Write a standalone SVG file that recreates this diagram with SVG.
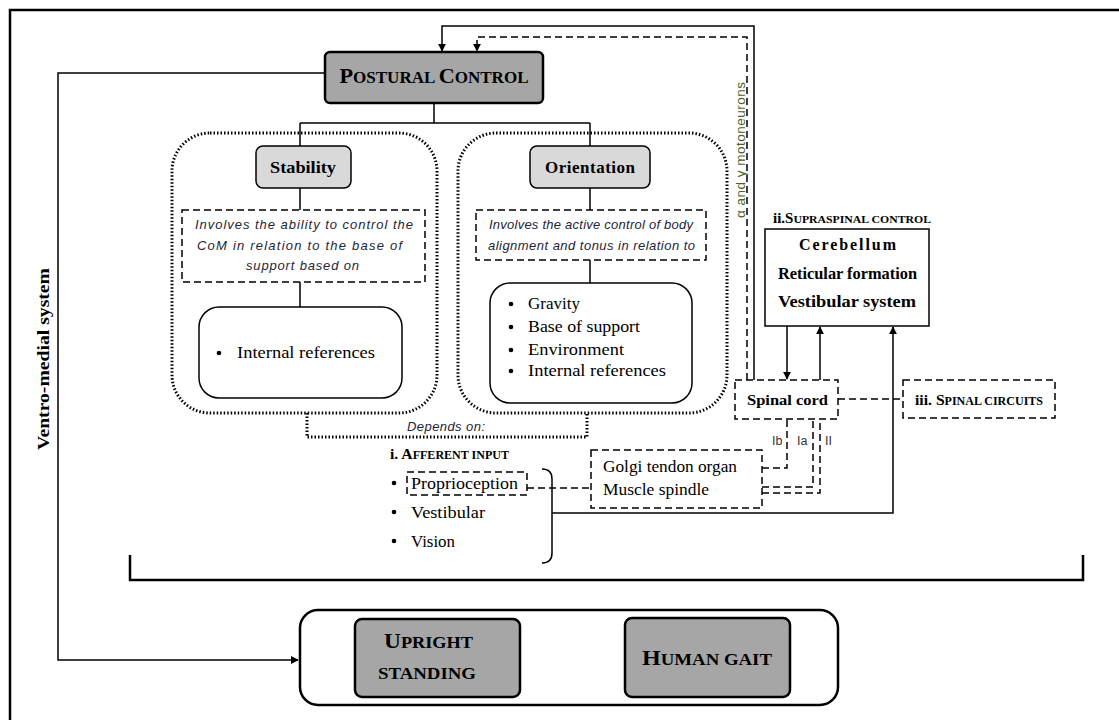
<svg xmlns="http://www.w3.org/2000/svg" width="1119" height="720" viewBox="0 0 1119 720">
<defs>
<marker id="ah" viewBox="0 0 10 10" refX="9" refY="5" markerWidth="8" markerHeight="8" markerUnits="userSpaceOnUse" orient="auto"><path d="M0,0 L10,5 L0,10 z" fill="#000"/></marker>
<style>
.ln{fill:none;stroke:#000;stroke-width:1.5}
.ln2{fill:none;stroke:#000;stroke-width:2.5}
.dash{fill:none;stroke:#000;stroke-width:1.5;stroke-dasharray:7,4}
.dot{fill:none;stroke:#000;stroke-width:3;stroke-dasharray:1.5,2}
.box{fill:#fff;stroke:#000;stroke-width:1.5}
.dk{fill:#a6a6a6;stroke:#000;stroke-width:2.5}
.lt{fill:#d9d9d9;stroke:#000;stroke-width:1.5}
.ser{font-family:"Liberation Serif","DejaVu Serif",serif;fill:#000}
.b{font-weight:bold}
.it{font-family:"Liberation Sans",Arial,sans-serif;font-style:italic;font-size:13px;fill:#1e2438}
.mid{text-anchor:middle}
</style>
</defs>
<rect width="1119" height="720" fill="#fff"/>
<!-- frame -->
<path d="M10,720 L10,10 L1119,10" class="ln2"/>

<g id="connectors">
<path d="M325,73 L58,73 L58,660 L298,660" class="ln" marker-end="url(#ah)"/>
<path d="M434,103 L434,123 M300,123 L590,123 M300,123 L300,147 M590,123 L590,147" class="ln"/>
<path d="M300,188 L300,210 M300,282 L300,307" class="ln"/>
<path d="M590,188 L590,210 M590,260 L590,283" class="ln"/>
<path d="M754,380 L754,26 L442,26 L442,51" class="ln" marker-end="url(#ah)"/>
<path d="M747,380 L747,37 L477,37 L477,51" class="dash" marker-end="url(#ah)"/>
<path d="M787,326 L787,379" class="ln" marker-end="url(#ah)"/>
<path d="M820,380 L820,327" class="ln" marker-end="url(#ah)"/>
<path d="M542,469 Q552,469 552,479 L552,553 Q552,563 542,563 M552,513 L893,513 L893,327" class="ln" marker-end="url(#ah)"/>
<path d="M838,399 L903,399" class="dash"/>
<path d="M527,488 L591,488" class="dash"/>
<path d="M762,468 L787,468 L787,420" class="dash"/>
<path d="M762,487 L813,487 L813,420" class="dash"/>
<path d="M762,493 L820,493 L820,420" class="dash"/>
<path d="M307,413 L307,437 L587,437 L587,413" class="dot"/>
<path d="M130,555 L130,580 L1083,580 L1083,555" class="ln2"/>
</g>

<text class="ser b" font-size="17" transform="translate(49,359) rotate(-90)" text-anchor="middle" textLength="182" lengthAdjust="spacingAndGlyphs">Ventro-medial system</text>
<text font-family="'Liberation Sans',Arial,sans-serif" font-size="13.5" fill="#4f6228" transform="translate(745,150) rotate(-90)" text-anchor="middle" textLength="136" lengthAdjust="spacing">α and γ motoneurons</text>

<g id="postural-control">
<rect x="325" y="52" width="218" height="51" rx="5" class="dk"/>
<text x="434" y="83" class="ser b mid" font-size="16.5" textLength="189" lengthAdjust="spacingAndGlyphs"><tspan font-size="21.5">P</tspan>OSTURAL <tspan font-size="21.5">C</tspan>ONTROL</text>
</g>

<g id="stability-group">
<rect x="172" y="133" width="265" height="280" rx="38" class="dot"/>
</g>
<g id="stability">
<rect x="256" y="146" width="95" height="42" rx="7" class="lt"/>
<text x="303" y="173" class="ser b mid" font-size="17" textLength="66" lengthAdjust="spacingAndGlyphs">Stability</text>
</g>
<g id="stability-desc">
<rect x="182" y="210" width="243" height="72" class="dash"/>
<text class="it"><tspan x="195" y="229" textLength="218" lengthAdjust="spacing">Involves the ability to control the</tspan></text>
<text class="it"><tspan x="197" y="250" textLength="205" lengthAdjust="spacing">CoM in relation to the base of</tspan></text>
<text class="it"><tspan x="246" y="270" textLength="113" lengthAdjust="spacing">support based on</tspan></text>
</g>
<g id="stability-refs">
<rect x="199" y="307" width="203" height="91" rx="20" class="box"/>
<circle cx="219" cy="353" r="2.3" fill="#000"/>
<text x="237" y="358" class="ser" font-size="16.5" textLength="138" lengthAdjust="spacingAndGlyphs">Internal references</text>
</g>

<g id="orientation-group">
<rect x="458" y="133" width="269" height="280" rx="38" class="dot"/>
</g>
<g id="orientation">
<rect x="530" y="146" width="120" height="42" rx="7" class="lt"/>
<text x="590" y="173" class="ser b mid" font-size="17" textLength="90" lengthAdjust="spacing">Orientation</text>
</g>
<g id="orientation-desc">
<rect x="476" y="210" width="230" height="50" class="dash"/>
<text class="it"><tspan x="489" y="229" textLength="204" lengthAdjust="spacing">Involves the active control of body</tspan></text>
<text class="it"><tspan x="488" y="250" textLength="207" lengthAdjust="spacing">alignment and tonus in relation to</tspan></text>
</g>
<g id="orientation-refs">
<rect x="490" y="283" width="202" height="120" rx="20" class="box"/>
<g fill="#000"><circle cx="511" cy="304" r="2.3"/><circle cx="511" cy="327" r="2.3"/><circle cx="511" cy="350" r="2.3"/><circle cx="511" cy="371" r="2.3"/></g>
<g class="ser" font-size="16.5">
<text x="528" y="309" textLength="52" lengthAdjust="spacingAndGlyphs">Gravity</text>
<text x="528" y="332" textLength="112" lengthAdjust="spacingAndGlyphs">Base of support</text>
<text x="528" y="355" textLength="96" lengthAdjust="spacingAndGlyphs">Environment</text>
<text x="528" y="376" textLength="138" lengthAdjust="spacingAndGlyphs">Internal references</text>
</g>
</g>

<text x="407" y="431" font-family="'Liberation Sans',Arial,sans-serif" font-style="italic" font-size="13" fill="#1e2438" textLength="78" lengthAdjust="spacing">Depends on:</text>

<g id="afferent-input">
<text x="390" y="459" class="ser b" font-size="11.5" textLength="119" lengthAdjust="spacingAndGlyphs"><tspan font-size="15">i. A</tspan>FFERENT INPUT</text>
<g fill="#000"><circle cx="394" cy="483" r="2.3"/><circle cx="394" cy="512" r="2.3"/><circle cx="394" cy="541" r="2.3"/></g>
<rect x="407" y="472" width="120" height="23" class="dash"/>
<g class="ser" font-size="16">
<text x="411" y="489" textLength="107" lengthAdjust="spacingAndGlyphs">Proprioception</text>
<text x="411" y="518" textLength="74" lengthAdjust="spacingAndGlyphs">Vestibular</text>
<text x="411" y="547" textLength="44" lengthAdjust="spacingAndGlyphs">Vision</text>
</g>
</g>

<g id="receptors">
<rect x="591" y="450" width="171" height="58" class="dash"/>
<g class="ser" font-size="16">
<text x="603" y="472" textLength="134" lengthAdjust="spacingAndGlyphs">Golgi tendon organ</text>
<text x="603" y="495" textLength="106" lengthAdjust="spacingAndGlyphs">Muscle spindle</text>
</g>
</g>
<g font-family="'Liberation Sans',Arial,sans-serif" font-size="12.5" fill="#333">
<text x="772" y="445">Ib</text><text x="797" y="445">Ia</text><text x="825" y="445">II</text>
</g>

<g id="supraspinal">
<text x="773" y="223" class="ser b" font-size="11" textLength="158" lengthAdjust="spacingAndGlyphs"><tspan font-size="14">ii.S</tspan>UPRASPINAL CONTROL</text>
<rect x="765" y="229" width="164" height="97" class="box"/>
<g class="ser b" font-size="16">
<text x="799" y="250" textLength="97" lengthAdjust="spacing">Cerebellum</text>
<text x="778" y="279" textLength="139" lengthAdjust="spacingAndGlyphs">Reticular formation</text>
<text x="778" y="307" textLength="138" lengthAdjust="spacingAndGlyphs">Vestibular system</text>
</g>
</g>

<g id="spinal-cord">
<rect x="735" y="380" width="103" height="39" class="dash"/>
<text x="747" y="405" class="ser b" font-size="15.5" textLength="81" lengthAdjust="spacingAndGlyphs">Spinal cord</text>
</g>

<g id="spinal-circuits">
<rect x="903" y="380" width="152" height="38" class="dash"/>
<text x="915" y="405" class="ser b" font-size="11.5" textLength="128" lengthAdjust="spacingAndGlyphs"><tspan font-size="15">iii. S</tspan>PINAL CIRCUITS</text>
</g>

<g id="outcomes">
<rect x="300" y="610" width="538" height="95" rx="18" class="ln2"/>
</g>
<g id="upright-standing">
<rect x="355" y="619" width="165" height="78" rx="7" class="dk"/>
<text x="384" y="648" class="ser b" font-size="16" textLength="89" lengthAdjust="spacingAndGlyphs"><tspan font-size="20.5">U</tspan>PRIGHT</text>
<text x="378" y="679" class="ser b" font-size="16" textLength="98" lengthAdjust="spacingAndGlyphs">STANDING</text>
</g>
<g id="human-gait">
<rect x="625" y="618" width="165" height="79" rx="7" class="dk"/>
<text x="642" y="665" class="ser b" font-size="16" textLength="130" lengthAdjust="spacingAndGlyphs"><tspan font-size="20.5">H</tspan>UMAN GAIT</text>
</g>
</svg>
